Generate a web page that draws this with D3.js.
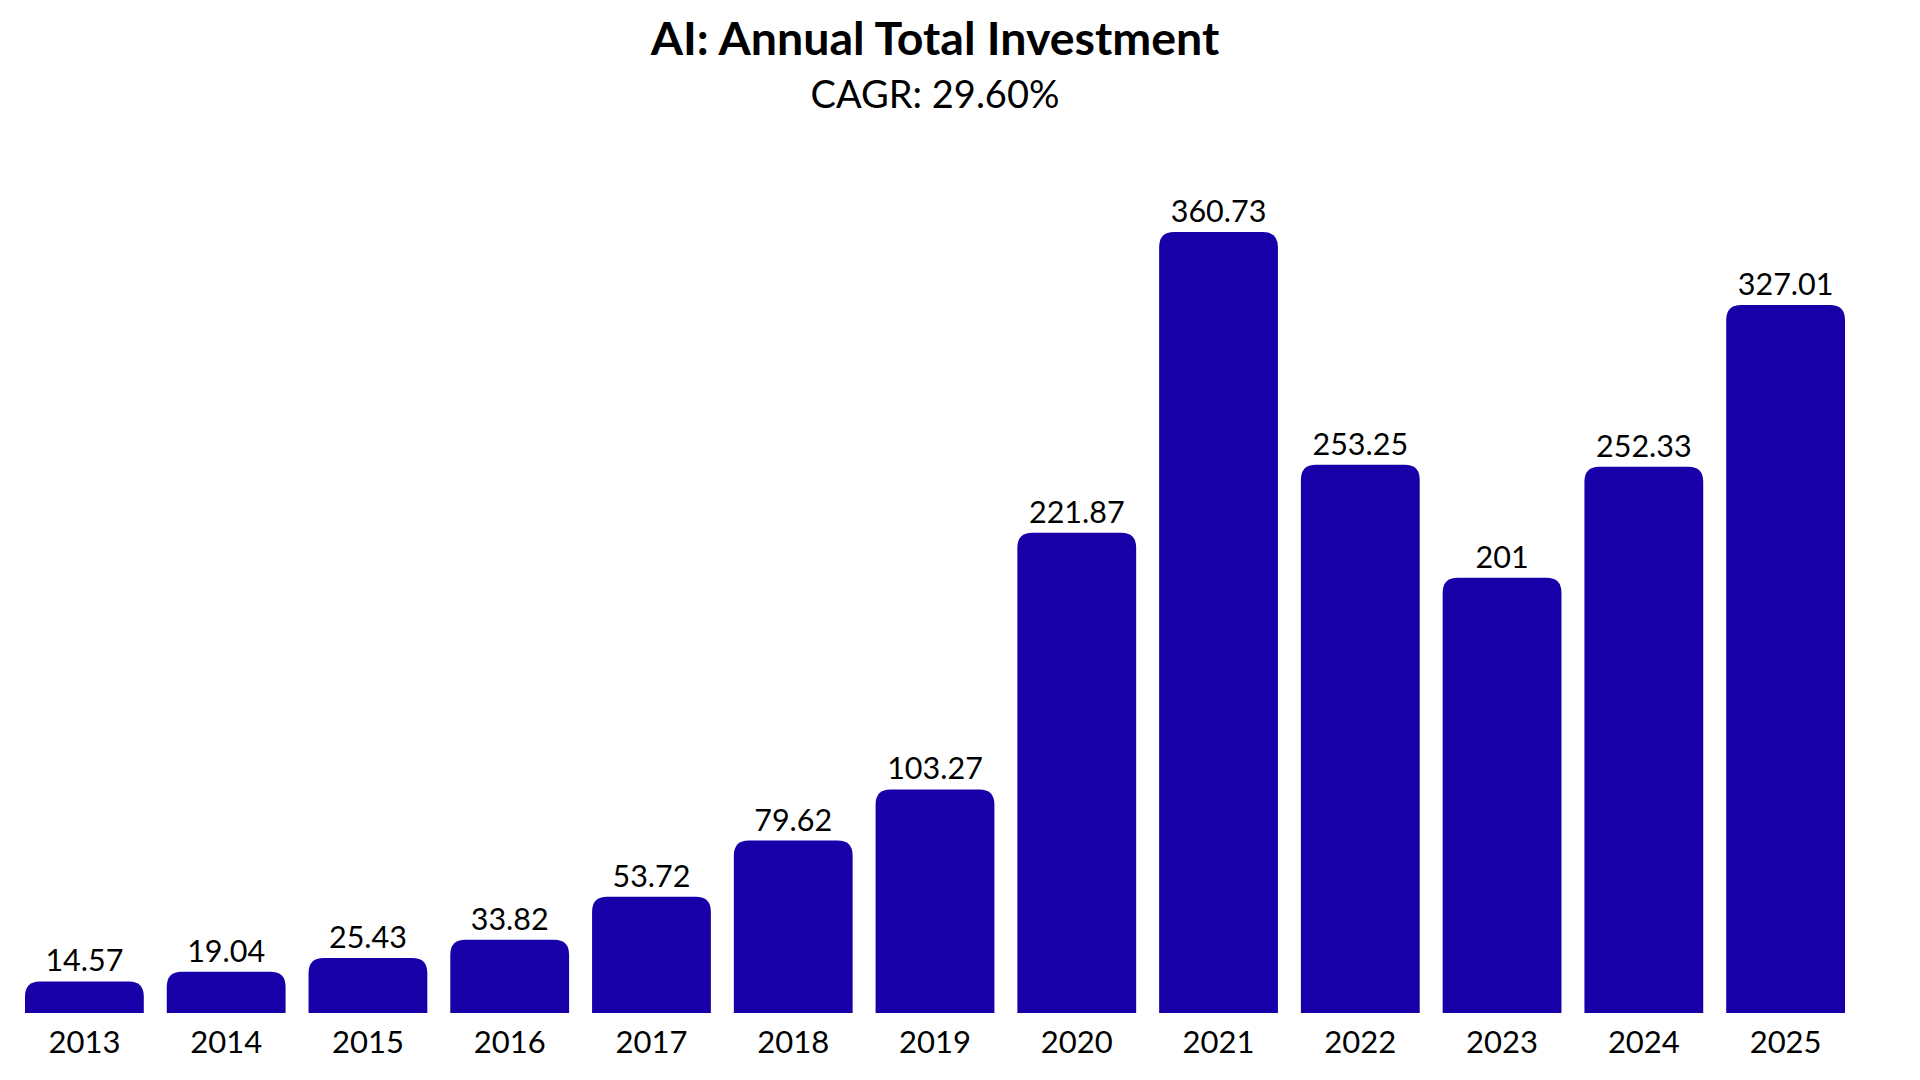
<!DOCTYPE html>
<html>
<head>
<meta charset="utf-8">
<script src="https://cdn.jsdelivr.net/npm/d3@7"></script>
<style>
  html, body { margin: 0; padding: 0; background: #fff; }
  svg { display: block; font-family: Lato, sans-serif; }
</style>
</head>
<body>
<div id="chart"></div>
<script>
const years = ["2013", "2014", "2015", "2016", "2017", "2018", "2019", "2020", "2021", "2022", "2023", "2024", "2025"];
const investment = [14.57, 19.04, 25.43, 33.82, 53.72, 79.62, 103.27, 221.87, 360.73, 253.25, 201, 252.33, 327.01];
const titleText = "AI: Annual Total Investment";
const subtitleText = "CAGR: 29.60%";

const width = 1920, height = 1080;
const barColor = "#1800a9";

const svg = d3.select("#chart")
  .append("svg")
  .attr("width", width)
  .attr("height", height);

// scales
const x = d3.scaleBand()
  .domain(years)
  .range([25, 1845])
  .paddingInner(0.162)
  .paddingOuter(0);

const y = d3.scaleLinear()
  .domain([0, 400])
  .range([1013, 147]);

// bar with rounded top corners only
function topRoundedBar(x0, y0, w, h, r) {
  r = Math.min(r, w / 2, h);
  return `M${x0},${y0 + h}` +
    `V${y0 + r}` +
    `Q${x0},${y0} ${x0 + r},${y0}` +
    `H${x0 + w - r}` +
    `Q${x0 + w},${y0} ${x0 + w},${y0 + r}` +
    `V${y0 + h}Z`;
}

const data = years.map((yr, i) => ({ year: yr, value: investment[i] }));

svg.append("g")
  .selectAll("path")
  .data(data)
  .join("path")
  .attr("d", d => topRoundedBar(x(d.year), y(d.value), x.bandwidth(), y(0) - y(d.value), 15))
  .attr("fill", barColor);

// value labels
svg.append("g")
  .selectAll("text")
  .data(data)
  .join("text")
  .attr("x", d => x(d.year) + x.bandwidth() / 2)
  .attr("y", d => y(d.value) - 10)
  .attr("text-anchor", "middle")
  .style("font-size", "30.5px")
  .style("fill", "#000")
  .text(d => d.value);

// x axis (labels only)
const xAxis = svg.append("g")
  .attr("transform", `translate(0,${y(0)})`)
  .call(d3.axisBottom(x).tickSize(0).tickPadding(18));
xAxis.select(".domain").remove();
xAxis.selectAll("text")
  .style("font-family", "Lato, sans-serif")
  .style("font-size", "31px")
  .style("fill", "#000");

// title
svg.append("text")
  .attr("x", 935)
  .attr("y", 55)
  .attr("text-anchor", "middle")
  .style("font-size", "46.5px")
  .style("font-weight", "bold")
  .style("fill", "#000")
  .text(titleText);

svg.append("text")
  .attr("x", 935)
  .attr("y", 108)
  .attr("text-anchor", "middle")
  .style("font-size", "38px")
  .style("fill", "#000")
  .text(subtitleText);
</script>
</body>
</html>
